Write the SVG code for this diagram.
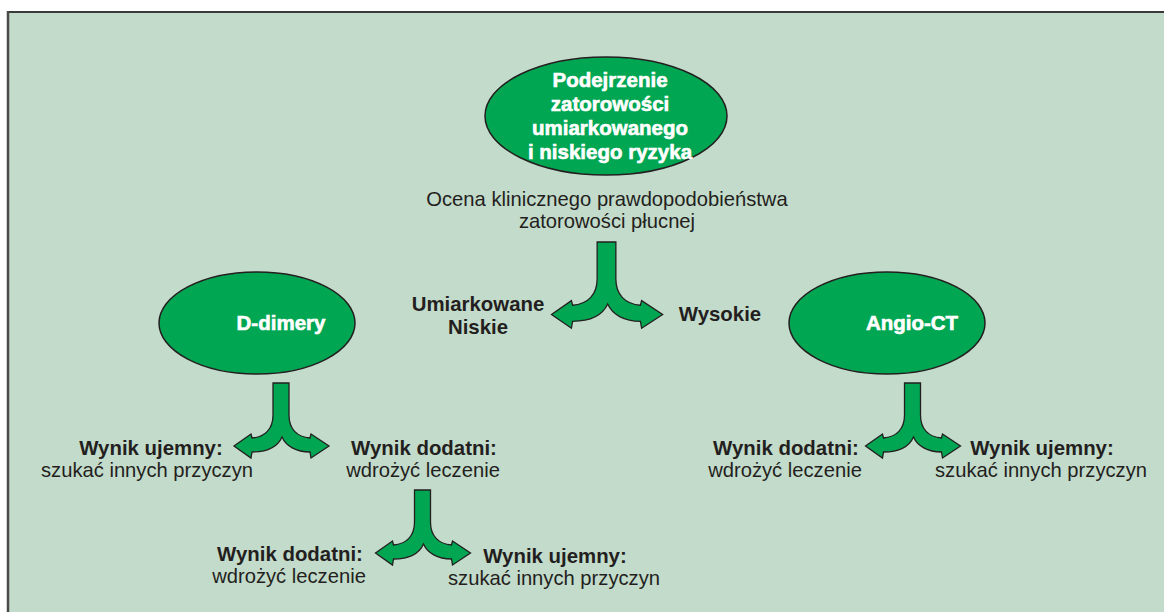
<svg xmlns="http://www.w3.org/2000/svg" xmlns:xlink="http://www.w3.org/1999/xlink" width="1164" height="612" viewBox="0 0 1164 612">
  <style>
    .node ellipse { fill: #00a651; stroke: #231f20; stroke-width: 1.5; }
    .wt { font-family: "Liberation Sans", Arial, sans-serif; font-weight: bold; font-size: 20.5px; fill: #ffffff; stroke: #ffffff; stroke-width: 0.6; text-anchor: middle; }
    .lbl { font-family: "Liberation Sans", Arial, sans-serif; font-size: 20.2px; fill: #231f20; text-anchor: middle; }
    .lblb { font-family: "Liberation Sans", Arial, sans-serif; font-weight: bold; font-size: 20.4px; fill: #231f20; text-anchor: middle; }
    .fork { fill: #00a651; stroke: #231f20; stroke-width: 1.3; stroke-linejoin: miter; }
  </style>
  <defs>
    <path id="forkShape" vector-effect="non-scaling-stroke" d="M -8 0 L 8 0 L 8 32 C 8 46, 16 54, 29 55 L 30 51 L 48 63 L 30 75 L 29 69 C 15 69, 5 63, 1 54 C -3 63, -13 69, -29 69 L -30 75 L -47 63 L -30 51 L -29 55 C -16 54, -8 46, -8 32 Z"/>
  </defs>

  <rect x="8" y="12" width="1160" height="604" fill="#c3dbcb"/>
  <line x1="8" y1="12" x2="1164" y2="12" stroke="#3a3a3a" stroke-width="2"/>
  <line x1="8" y1="11" x2="8" y2="612" stroke="#4a4a4a" stroke-width="2.5"/>

  <g id="connectors">
    <use href="#forkShape" class="fork" transform="translate(606.5,242) scale(1.17,1.15)"/>
    <use href="#forkShape" class="fork" transform="translate(281,383)"/>
    <use href="#forkShape" class="fork" transform="translate(912.5,383)"/>
    <use href="#forkShape" class="fork" transform="translate(422.5,490)"/>
  </g>

  <g id="node-start" class="node">
    <ellipse cx="606" cy="116" rx="121" ry="59"/>
    <text class="wt" x="610" y="87">Podejrzenie</text>
    <text class="wt" x="610" y="111">zatorowości</text>
    <text class="wt" x="610" y="135">umiarkowanego</text>
    <text class="wt" x="610" y="159">i niskiego ryzyka</text>
  </g>

  <g id="label-ocena">
    <text class="lbl" x="607" y="206" font-size="21.5">Ocena klinicznego prawdopodobieństwa</text>
    <text class="lbl" x="607" y="228" font-size="21.5">zatorowości płucnej</text>
  </g>

  <g id="node-ddimery" class="node">
    <ellipse cx="257" cy="323" rx="98" ry="51"/>
    <text class="wt" x="281" y="330" font-size="20">D-dimery</text>
  </g>

  <g id="node-angio" class="node">
    <ellipse cx="887" cy="323" rx="98" ry="51"/>
    <text class="wt" x="912" y="330" font-size="20">Angio-CT</text>
  </g>

  <g id="label-umiarkowane">
    <text class="lblb" x="478" y="311" font-size="19.8">Umiarkowane</text>
    <text class="lblb" x="478" y="334" font-size="19.8">Niskie</text>
  </g>
  <g id="label-wysokie">
    <text class="lblb" x="720" y="321" font-size="19.8">Wysokie</text>
  </g>

  <g id="dd-negative">
    <text class="lblb" x="151" y="455">Wynik ujemny:</text>
    <text class="lbl" x="147" y="477">szukać innych przyczyn</text>
  </g>
  <g id="dd-positive">
    <text class="lblb" x="424" y="455">Wynik dodatni:</text>
    <text class="lbl" x="423" y="477">wdrożyć leczenie</text>
  </g>

  <g id="ct-positive">
    <text class="lblb" x="786" y="455">Wynik dodatni:</text>
    <text class="lbl" x="785" y="477">wdrożyć leczenie</text>
  </g>
  <g id="ct-negative">
    <text class="lblb" x="1042" y="455">Wynik ujemny:</text>
    <text class="lbl" x="1041" y="477">szukać innych przyczyn</text>
  </g>

  <g id="pos-positive">
    <text class="lblb" x="290" y="561">Wynik dodatni:</text>
    <text class="lbl" x="289" y="583">wdrożyć leczenie</text>
  </g>
  <g id="pos-negative">
    <text class="lblb" x="555" y="563">Wynik ujemny:</text>
    <text class="lbl" x="554" y="585">szukać innych przyczyn</text>
  </g>
</svg>
